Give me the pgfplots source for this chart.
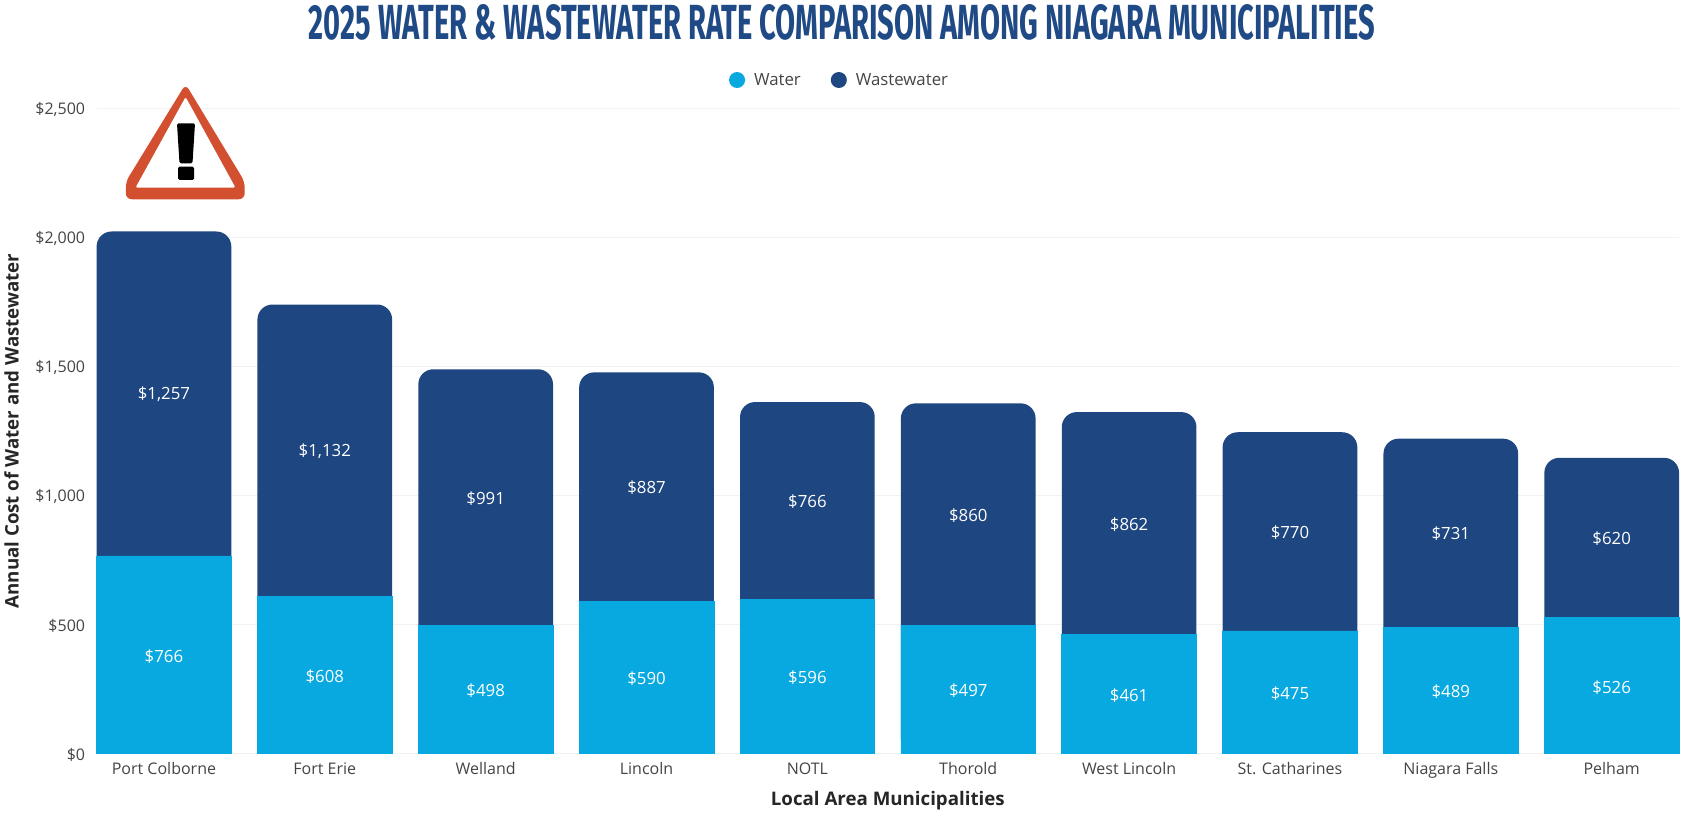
\documentclass[border=0pt]{standalone}
\usepackage{pgfplots}
\usepackage{pgfplotstable}
\usepackage{fontspec}
\pgfplotsset{compat=1.18}
\setmainfont{Open Sans}
\newfontfamily\titlefont{Fira Sans}[UprightFont=* Bold]
\definecolor{waterc}{HTML}{08A9E0}
\definecolor{wastec}{HTML}{1E4680}
\definecolor{titlec}{HTML}{1F4A85}
\definecolor{warnc}{HTML}{D24F30}
\definecolor{tickc}{HTML}{444444}
\definecolor{gridc}{HTML}{F2F2F2}
\pgfplotstableread{
x water waste
0 766 1257
1 608 1132
2 498 991
3 590 887
4 596 766
5 497 860
6 461 862
7 475 770
8 489 731
9 526 620
}\ratedata
\begin{document}
\begin{tikzpicture}[x=1pt,y=-1pt]
\path[use as bounding box] (0,0) rectangle (1683,813);
\begin{axis}[
  at={(96.6pt,-753.5pt)}, anchor=south west,
  scale only axis, width=1582.4pt, height=645.1pt,
  xmin=-0.4187, xmax=9.4187, ymin=0, ymax=2500,
  ybar, bar width=134.7pt, bar shift=0pt,
  axis line style={draw=none}, axis x line*=bottom, axis y line*=left,
  major tick length=0pt,
  ymajorgrids, grid style={gridc, line width=1pt},
  ytick={0,500,1000,1500,2000,2500},
  yticklabel={\$\pgfmathprintnumber[fixed,precision=0,1000 sep={,},assume math mode=true]{\tick}},
  xtick={0,...,9},
  xticklabels={Port Colborne,Fort Erie,Welland,Lincoln,NOTL,Thorold,West Lincoln,St. Catharines,Niagara Falls,Pelham},
  tick label style={font=\fontsize{16}{18}\selectfont, text=tickc},
  xticklabel style={yshift=-6pt, text height=11pt, text depth=3pt},
  yticklabel style={xshift=-8pt, yshift=-1pt},
  xlabel={Local Area Municipalities},
  ylabel={Annual Cost of Water and Wastewater},
  label style={font=\fontsize{18.7}{20}\selectfont\bfseries, text=black!85},
  xlabel style={at={(axis description cs:0.5,0)}, anchor=center, yshift=-47pt},
  ylabel style={at={(axis description cs:0,0.5)}, anchor=center, yshift=85pt},
  legend image code/.code={\fill[#1, draw=none] (0pt,0pt) circle (8pt);},
  legend columns=2,
  legend style={draw=none, fill=none, at={(axis description cs:0.4695,1.044)}, anchor=center,
    font=\fontsize{16.8}{18}\selectfont, text=tickc,
    /tikz/every odd column/.append style={column sep=7pt},
    /tikz/every even column/.append style={column sep=28pt}},
  clip=false,
]
\addlegendimage{fill=waterc}
\addlegendentry{Water}
\addlegendimage{fill=wastec}
\addlegendentry{Wastewater}
% wastewater sits on the water value; drawn first so that the water bar covers its lower corners
\addplot[forget plot, fill=wastec, draw=none, rounded corners=15pt]
  table[x=x, y expr=\thisrow{water}+\thisrow{waste}] {\ratedata};
\addplot[forget plot, fill=waterc, draw=waterc, line width=0.6pt]
  table[x=x, y=water] {\ratedata};
\addplot[forget plot, sharp plot, draw=none, mark=none,
  point meta=\thisrow{water},
  nodes near coords={\$\pgfmathprintnumber[fixed,precision=0,1000 sep={,},assume math mode=true]{\pgfplotspointmeta}},
  nodes near coords align={anchor=center},
  every node near coord/.append style={anchor=center, yshift=-1.5pt, text=white, font=\fontsize{16.8}{18}\selectfont}]
  table[x=x, y expr=\thisrow{water}/2] {\ratedata};
\addplot[forget plot, sharp plot, draw=none, mark=none,
  point meta=\thisrow{waste},
  nodes near coords={\$\pgfmathprintnumber[fixed,precision=0,1000 sep={,},assume math mode=true]{\pgfplotspointmeta}},
  nodes near coords align={anchor=center},
  every node near coord/.append style={anchor=center, yshift=-1pt, text=white, font=\fontsize{16.8}{18}\selectfont}]
  table[x=x, y expr=\thisrow{water}+\thisrow{waste}/2] {\ratedata};
\end{axis}
% title
\node[anchor=center, text=titlec] at (842,22) {\resizebox{1066pt}{35pt}{\titlefont 2025 WATER \& WASTEWATER RATE COMPARISON AMONG NIAGARA MUNICIPALITIES}};
% warning sign
\fill[warnc, rounded corners=6pt] (185.6,84) -- (244.7,181.7) -- (244.7,199.3) -- (125.8,199.3) -- (125.8,181.7) -- cycle;
\fill[white, rounded corners=2pt] (185.6,97) -- (235.5,187.7) -- (135.5,187.7) -- cycle;
\fill[black, rounded corners=1.5pt] (177,123.3) -- (195,123.3) -- (192.5,163.3) -- (179.5,163.3) -- cycle;
\fill[black, rounded corners=1.5pt] (178,166.7) -- (194,166.7) -- (194,180) -- (178,180) -- cycle;
\end{tikzpicture}
\end{document}
